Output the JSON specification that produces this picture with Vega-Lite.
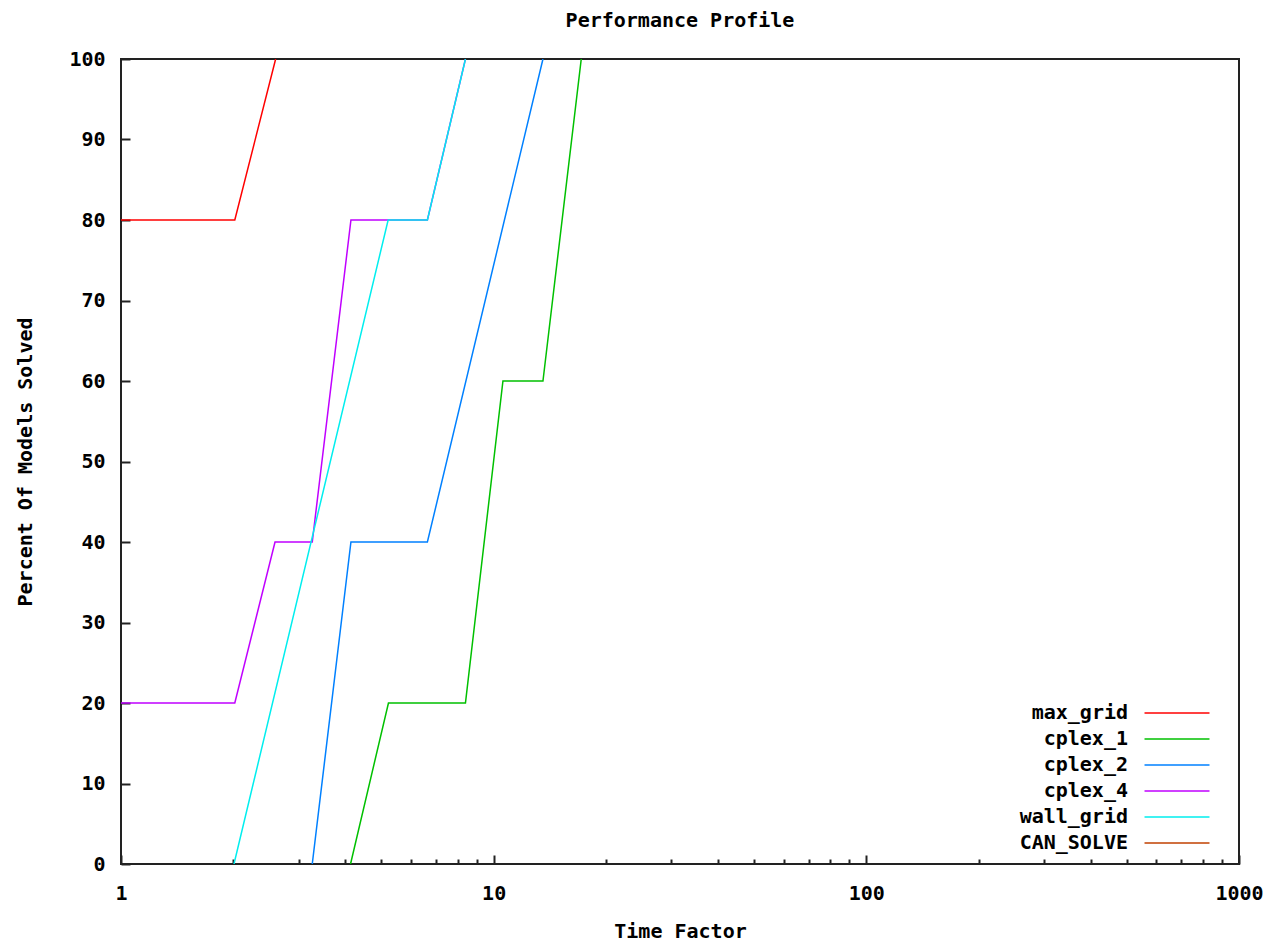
{
  "$schema": "https://vega.github.io/schema/vega-lite/v6.json",
  "width": 1118,
  "height": 805,
  "autosize": "none",
  "padding": {"left": 121, "top": 59, "right": 38, "bottom": 79},
  "background": "#ffffff",
  "config": {
    "view": {"stroke": "#222222", "strokeWidth": 2},
    "font": "DejaVu Sans Mono"
  },
  "title": {
    "text": "Performance Profile",
    "font": "DejaVu Sans Mono",
    "fontSize": 20,
    "fontWeight": "bold",
    "color": "#000000",
    "offset": 18
  },
  "data": {
    "values": [
      {"series": "max_grid", "x": 1, "y": 80},
      {"series": "max_grid", "x": 2.02, "y": 80},
      {"series": "max_grid", "x": 2.6, "y": 100},
      {"series": "cplex_1", "x": 4.13, "y": 0},
      {"series": "cplex_1", "x": 5.22, "y": 20},
      {"series": "cplex_1", "x": 8.4, "y": 20},
      {"series": "cplex_1", "x": 10.59, "y": 60},
      {"series": "cplex_1", "x": 13.56, "y": 60},
      {"series": "cplex_1", "x": 17.18, "y": 100},
      {"series": "cplex_2", "x": 3.26, "y": 0},
      {"series": "cplex_2", "x": 4.14, "y": 40},
      {"series": "cplex_2", "x": 6.64, "y": 40},
      {"series": "cplex_2", "x": 13.56, "y": 100},
      {"series": "cplex_4", "x": 1, "y": 20},
      {"series": "cplex_4", "x": 2.02, "y": 20},
      {"series": "cplex_4", "x": 2.59, "y": 40},
      {"series": "cplex_4", "x": 3.26, "y": 40},
      {"series": "cplex_4", "x": 4.14, "y": 80},
      {"series": "cplex_4", "x": 5.21, "y": 80},
      {"series": "cplex_4", "x": 6.64, "y": 80},
      {"series": "cplex_4", "x": 8.4, "y": 100},
      {"series": "wall_grid", "x": 2.01, "y": 0},
      {"series": "wall_grid", "x": 5.21, "y": 80},
      {"series": "wall_grid", "x": 6.64, "y": 80},
      {"series": "wall_grid", "x": 8.4, "y": 100}
    ]
  },
  "mark": {"type": "line", "strokeWidth": 1.5, "clip": true},
  "encoding": {
    "x": {
      "field": "x",
      "type": "quantitative",
      "scale": {"type": "log", "domain": [1, 1000], "nice": false},
      "axis": {
        "title": "Time Factor",
        "titleFont": "DejaVu Sans Mono",
        "titleFontSize": 20,
        "titleFontWeight": "bold",
        "titleColor": "#000000",
        "titlePadding": 14,
        "values": [1, 2, 3, 4, 5, 6, 7, 8, 9, 10, 20, 30, 40, 50, 60, 70, 80, 90, 100, 200, 300, 400, 500, 600, 700, 800, 900, 1000],
        "labelExpr": "indexof(['1','10','100','1000'], format(datum.value, 'd')) >= 0 ? format(datum.value, 'd') : ''",
        "labelFont": "DejaVu Sans Mono",
        "labelFontSize": 20,
        "labelFontWeight": "bold",
        "labelColor": "#000000",
        "labelPadding": 28,
        "labelFlush": false,
        "labelOverlap": false,
        "domain": false,
        "grid": false,
        "tickColor": "#222222",
        "tickWidth": 2,
        "tickSize": {"condition": {"test": "indexof([1,10,100,1000], datum.value) >= 0", "value": -9}, "value": -5}
      }
    },
    "y": {
      "field": "y",
      "type": "quantitative",
      "scale": {"domain": [0, 100], "nice": false},
      "axis": {
        "title": "Percent Of Models Solved",
        "titleFont": "DejaVu Sans Mono",
        "titleFontSize": 20,
        "titleFontWeight": "bold",
        "titleColor": "#000000",
        "titlePadding": 33,
        "values": [0, 10, 20, 30, 40, 50, 60, 70, 80, 90, 100],
        "labelFont": "DejaVu Sans Mono",
        "labelFontSize": 20,
        "labelFontWeight": "bold",
        "labelColor": "#000000",
        "labelPadding": 25,
        "labelFlush": false,
        "domain": false,
        "grid": false,
        "tickColor": "#222222",
        "tickWidth": 2,
        "tickSize": -9
      }
    },
    "color": {
      "field": "series",
      "type": "nominal",
      "scale": {
        "domain": ["max_grid", "cplex_1", "cplex_2", "cplex_4", "wall_grid", "CAN_SOLVE"],
        "range": ["#ff0000", "#00c000", "#0080ff", "#c000ff", "#00eeee", "#c04000"]
      },
      "legend": {
        "title": null,
        "orient": "none",
        "legendX": 1044,
        "legendY": 642,
        "symbolType": "M-3,0H3",
        "symbolSize": 469,
        "symbolStrokeWidth": 1.5,
        "labelAlign": "right",
        "labelOffset": -61,
        "labelFont": "DejaVu Sans Mono",
        "labelFontSize": 20,
        "labelFontWeight": "bold",
        "labelColor": "#000000",
        "rowPadding": 4,
        "labelLimit": 300
      }
    }
  }
}
